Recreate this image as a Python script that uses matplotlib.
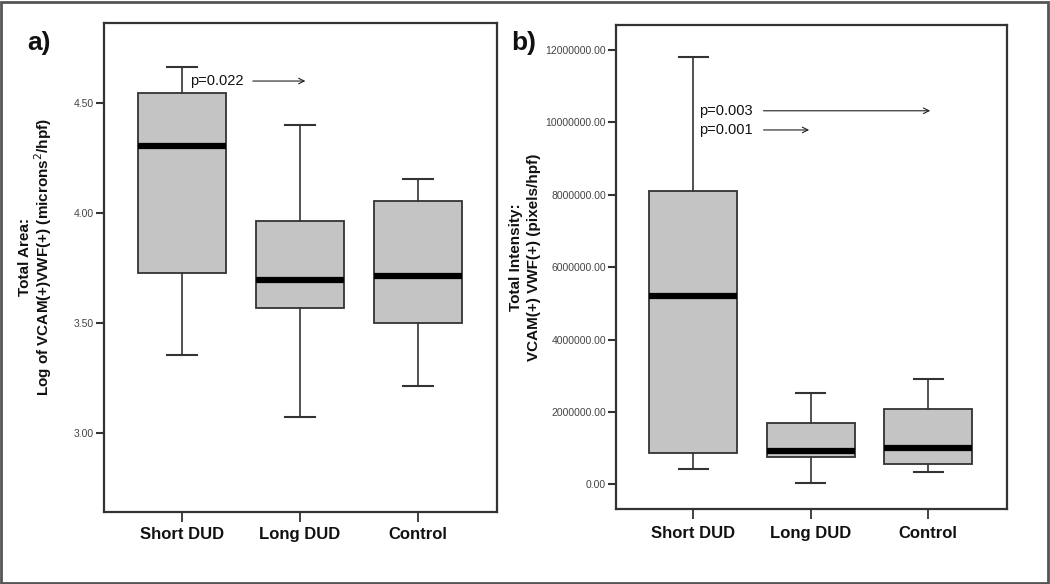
import matplotlib
matplotlib.use("Agg")
import matplotlib.pyplot as plt
from matplotlib.patches import Rectangle

plt.rcParams['font.family'] = ['Liberation Sans', 'DejaVu Sans']

categories = ["Short DUD", "Long DUD", "Control"]

# Panel a: log total area
a_whislo = [3.355, 3.07, 3.215]
a_q1 = [3.729, 3.570, 3.500]
a_med = [4.306, 3.695, 3.714]
a_q3 = [4.544, 3.965, 4.053]
a_whishi = [4.662, 4.400, 4.153]
a_ticks = [3.00, 3.50, 4.00, 4.50]
a_tick_labels = ["3.00", "3.50", "4.00", "4.50"]

# Panel b: total intensity
b_whislo = [0.414e6, 0.03e6, 0.35e6]
b_q1 = [0.856e6, 0.76e6, 0.57e6]
b_med = [5.20e6, 0.92e6, 1.00e6]
b_q3 = [8.11e6, 1.69e6, 2.08e6]
b_whishi = [11.81e6, 2.51e6, 2.92e6]
b_ticks = [0, 2e6, 4e6, 6e6, 8e6, 10e6, 12e6]
b_tick_labels = ["0.00", "2000000.00", "4000000.00", "6000000.00",
                 "8000000.00", "10000000.00", "12000000.00"]

# p-value annotations: (label, y, arrow end x)
a_pvals = [("p=0.022", 4.60, 2.07)]
b_pvals = [("p=0.003", 10.32e6, 3.04), ("p=0.001", 9.79e6, 2.01)]

fig = plt.figure(figsize=(10.5, 5.84), dpi=100)
spine_c = "#333333"


def draw_panel(ax, lo, q1, med, q3, hi, ticks, tlabels, ylim, xpad):
    stats = []
    for i, c in enumerate(categories):
        stats.append(dict(label=c, whislo=lo[i], q1=q1[i], med=med[i],
                          q3=q3[i], whishi=hi[i], fliers=[]))
    ax.bxp(stats, positions=[1, 2, 3], widths=0.746, patch_artist=True,
           showfliers=False,
           boxprops=dict(facecolor="#c4c4c4", edgecolor=spine_c, linewidth=1.3),
           medianprops=dict(color="black", linewidth=4.5, solid_capstyle="butt"),
           whiskerprops=dict(color=spine_c, linewidth=1.2),
           capprops=dict(color=spine_c, linewidth=1.5),
           capwidths=0.25)
    ax.set_xlim(0.34, 3.67)
    ax.set_ylim(*ylim)
    ax.set_yticks(ticks)
    ax.set_yticklabels(tlabels, fontsize=7.5, color="#444444")
    ax.set_xticks([1, 2, 3])
    ax.set_xticklabels(categories, fontsize=12, fontweight="bold", color="#111111")
    ax.tick_params(axis="y", length=6, width=1.5, color=spine_c, pad=1)
    ax.tick_params(axis="x", length=7, width=1.3, color=spine_c, pad=xpad)
    for s in ax.spines.values():
        s.set_color(spine_c)
        s.set_linewidth(1.6)


axa = fig.add_axes([104 / 1050, 1 - 512 / 584, 393 / 1050, 489 / 584])
draw_panel(axa, a_whislo, a_q1, a_med, a_q3, a_whishi, a_ticks, a_tick_labels,
           (2.64, 4.864), 3.8)
for lab, y, xend in a_pvals:
    axa.text(1.069, y, lab, fontsize=10.5, va="center", ha="left", color="#111111")
    axa.annotate("", xy=(xend, y), xytext=(1.577, y),
                 arrowprops=dict(arrowstyle="->", color="#222222", lw=0.8))

axb = fig.add_axes([615.7 / 1050, 1 - 508.7 / 584, 391.3 / 1050, 483.7 / 584])
draw_panel(axb, b_whislo, b_q1, b_med, b_q3, b_whishi, b_ticks, b_tick_labels,
           (-0.674e6, 12.69e6), 5.8)
for lab, y, xend in b_pvals:
    axb.text(1.049, y, lab, fontsize=10.5, va="center", ha="left", color="#111111")
    axb.annotate("", xy=(xend, y), xytext=(1.574, y),
                 arrowprops=dict(arrowstyle="->", color="#222222", lw=0.8))

# y labels (two-line, centred)
fig.text(36 / 1050, 1 - 257 / 584,
         "Total Area:\nLog of VCAM(+)VWF(+) (microns$^2$/hpf)",
         rotation=90, fontsize=11, fontweight="bold", ha="center", va="center",
         multialignment="center", linespacing=1.05, color="#111111")
fig.text(525 / 1050, 1 - 257 / 584,
         "Total Intensity:\nVCAM(+) VWF(+) (pixels/hpf)",
         rotation=90, fontsize=11, fontweight="bold", ha="center", va="center",
         multialignment="center", linespacing=1.3, color="#111111")

# panel letters
fig.text(27 / 1050, 1 - 43 / 584, "a)", fontsize=19, fontweight="bold",
         ha="left", va="center", color="#111111")
fig.text(511 / 1050, 1 - 43 / 584, "b)", fontsize=19, fontweight="bold",
         ha="left", va="center", color="#111111")

# outer border
fig.patches.append(Rectangle((0.001, 0.002), 0.997, 0.995, transform=fig.transFigure,
                             fill=False, edgecolor="#555555", linewidth=2))

fig.savefig("out.png", dpi=100)
